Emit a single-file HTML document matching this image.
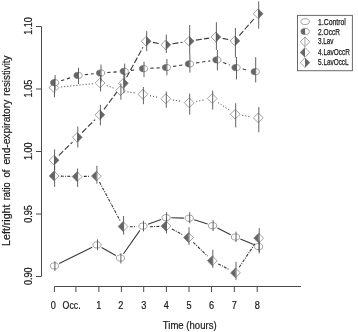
<!DOCTYPE html>
<html><head><meta charset="utf-8"><title>Left/right ratio of end-expiratory resistivity</title>
<style>html,body{margin:0;padding:0;background:#fff}svg{display:block}</style></head>
<body><svg width="358" height="332" viewBox="0 0 358 332">
<rect width="358" height="332" fill="#fff"/>
<g stroke="#3a3a3a" stroke-width="1.1" fill="none"><line x1="59.2" y1="263.6" x2="92.2" y2="247.2"/><line x1="101.6" y1="247.5" x2="115.8" y2="255.4"/><line x1="123.5" y1="253.7" x2="139.9" y2="230.4"/><line x1="148.0" y1="224.3" x2="161.1" y2="219.5"/><line x1="171.4" y1="217.8" x2="183.9" y2="218.1"/><line x1="194.2" y1="219.8" x2="207.6" y2="224.1"/><line x1="217.4" y1="228.0" x2="230.7" y2="234.7"/><line x1="240.4" y1="239.0" x2="253.7" y2="244.6"/></g>
<g stroke="#3a3a3a" stroke-width="1.1" fill="none" stroke-dasharray="3.3 2.8"><line x1="61.1" y1="80.7" x2="71.5" y2="77.4"/><line x1="84.8" y1="74.7" x2="93.7" y2="73.7"/><line x1="107.3" y1="72.5" x2="117.4" y2="71.8"/><line x1="130.9" y1="70.4" x2="136.8" y2="69.6"/><line x1="150.3" y1="68.3" x2="159.6" y2="67.9"/><line x1="173.1" y1="66.4" x2="182.7" y2="65.0"/><line x1="196.1" y1="62.9" x2="210.2" y2="60.9"/><line x1="223.2" y1="62.4" x2="229.7" y2="65.1"/><line x1="242.7" y1="69.0" x2="248.5" y2="70.3"/></g>
<g stroke="#3a3a3a" stroke-width="1.0" fill="none" stroke-dasharray="1 2.07"><line x1="61.2" y1="87.0" x2="92.9" y2="83.7"/><line x1="106.8" y1="85.6" x2="113.7" y2="88.1"/><line x1="127.5" y1="91.8" x2="135.8" y2="93.2"/><line x1="150.0" y1="95.7" x2="158.7" y2="97.4"/><line x1="172.9" y1="100.0" x2="182.1" y2="101.5"/><line x1="196.3" y1="101.4" x2="205.1" y2="99.8"/><line x1="218.1" y1="102.6" x2="229.3" y2="110.1"/><line x1="242.3" y1="115.3" x2="251.2" y2="116.8"/></g>
<g stroke="#3a3a3a" stroke-width="1.1" fill="none" stroke-dasharray="3 1.2 1 1.2"><line x1="60.8" y1="176.1" x2="70.4" y2="176.4"/><line x1="83.8" y1="176.4" x2="89.7" y2="176.3"/><line x1="99.5" y1="182.0" x2="120.0" y2="220.6"/><line x1="129.8" y1="226.7" x2="136.5" y2="226.8"/><line x1="149.9" y1="226.7" x2="159.3" y2="226.4"/><line x1="172.0" y1="229.1" x2="182.5" y2="234.6"/><line x1="193.3" y1="242.3" x2="207.5" y2="256.1"/><line x1="218.2" y1="263.9" x2="229.6" y2="269.8"/><line x1="239.2" y1="267.3" x2="255.0" y2="243.7"/></g>
<g stroke="#3a3a3a" stroke-width="1.1" fill="none" stroke-dasharray="6 2.2"><line x1="58.9" y1="155.4" x2="72.5" y2="142.1"/><line x1="82.1" y1="132.5" x2="95.1" y2="119.6"/><line x1="104.0" y1="109.3" x2="119.3" y2="88.8"/><line x1="126.6" y1="77.3" x2="143.0" y2="47.2"/><line x1="152.9" y1="42.4" x2="159.1" y2="43.6"/><line x1="172.5" y1="43.8" x2="182.5" y2="42.2"/><line x1="195.9" y1="40.1" x2="209.2" y2="38.1"/><line x1="222.6" y1="38.4" x2="228.2" y2="39.5"/><line x1="239.3" y1="35.7" x2="253.8" y2="19.0"/></g>
<path d="M49.1 87.7 L54.0 82.8 L58.9 87.7 L54.0 92.6 Z" fill="#fff" stroke="#7a7a7a" stroke-width="0.7"/><path d="M95.2 83.0 L100.1 78.1 L105.0 83.0 L100.1 87.9 Z" fill="#fff" stroke="#7a7a7a" stroke-width="0.7"/><path d="M115.5 90.7 L120.4 85.8 L125.3 90.7 L120.4 95.6 Z" fill="#fff" stroke="#7a7a7a" stroke-width="0.7"/><path d="M138.0 94.3 L142.9 89.4 L147.8 94.3 L142.9 99.2 Z" fill="#fff" stroke="#7a7a7a" stroke-width="0.7"/><path d="M160.9 98.8 L165.8 93.9 L170.7 98.8 L165.8 103.7 Z" fill="#fff" stroke="#7a7a7a" stroke-width="0.7"/><path d="M184.3 102.7 L189.2 97.8 L194.1 102.7 L189.2 107.6 Z" fill="#fff" stroke="#7a7a7a" stroke-width="0.7"/><path d="M207.3 98.5 L212.2 93.6 L217.1 98.5 L212.2 103.4 Z" fill="#fff" stroke="#7a7a7a" stroke-width="0.7"/><path d="M230.3 114.2 L235.2 109.3 L240.1 114.2 L235.2 119.1 Z" fill="#fff" stroke="#7a7a7a" stroke-width="0.7"/><path d="M253.4 117.9 L258.3 113.0 L263.2 117.9 L258.3 122.8 Z" fill="#fff" stroke="#7a7a7a" stroke-width="0.7"/>
<ellipse cx="54.6" cy="82.7" rx="4.1" ry="3.1" fill="#fff" stroke="#7a7a7a" stroke-width="0.7"/><path d="M54.6 79.6 A4.1 3.1 0 0 0 54.6 85.8 Z" fill="#666666"/><ellipse cx="78.0" cy="75.4" rx="4.1" ry="3.1" fill="#fff" stroke="#7a7a7a" stroke-width="0.7"/><path d="M78.0 72.3 A4.1 3.1 0 0 0 78.0 78.5 Z" fill="#666666"/><ellipse cx="100.5" cy="73.0" rx="4.1" ry="3.1" fill="#fff" stroke="#7a7a7a" stroke-width="0.7"/><path d="M100.5 69.9 A4.1 3.1 0 0 0 100.5 76.1 Z" fill="#666666"/><ellipse cx="124.2" cy="71.3" rx="4.1" ry="3.1" fill="#fff" stroke="#7a7a7a" stroke-width="0.7"/><path d="M124.2 68.2 A4.1 3.1 0 0 0 124.2 74.4 Z" fill="#666666"/><ellipse cx="143.5" cy="68.7" rx="4.1" ry="3.1" fill="#fff" stroke="#7a7a7a" stroke-width="0.7"/><path d="M143.5 65.6 A4.1 3.1 0 0 0 143.5 71.8 Z" fill="#666666"/><ellipse cx="166.4" cy="67.5" rx="4.1" ry="3.1" fill="#fff" stroke="#7a7a7a" stroke-width="0.7"/><path d="M166.4 64.4 A4.1 3.1 0 0 0 166.4 70.6 Z" fill="#666666"/><ellipse cx="189.4" cy="63.9" rx="4.1" ry="3.1" fill="#fff" stroke="#7a7a7a" stroke-width="0.7"/><path d="M189.4 60.8 A4.1 3.1 0 0 0 189.4 67.0 Z" fill="#666666"/><ellipse cx="216.9" cy="59.9" rx="4.1" ry="3.1" fill="#fff" stroke="#7a7a7a" stroke-width="0.7"/><path d="M216.9 56.8 A4.1 3.1 0 0 0 216.9 63.0 Z" fill="#666666"/><ellipse cx="236.0" cy="67.6" rx="4.1" ry="3.1" fill="#fff" stroke="#7a7a7a" stroke-width="0.7"/><path d="M236.0 64.5 A4.1 3.1 0 0 0 236.0 70.7 Z" fill="#666666"/><ellipse cx="255.2" cy="71.7" rx="4.1" ry="3.1" fill="#fff" stroke="#7a7a7a" stroke-width="0.7"/><path d="M255.2 68.6 A4.1 3.1 0 0 0 255.2 74.8 Z" fill="#666666"/>
<path d="M49.2 160.2 L54.1 155.3 L59.0 160.2 L54.1 165.1 Z" fill="#fff" stroke="#7a7a7a" stroke-width="0.7"/><path d="M59.0 160.2 L54.1 155.3 L54.1 165.1 Z" fill="#666666"/><path d="M72.4 137.3 L77.3 132.4 L82.2 137.3 L77.3 142.2 Z" fill="#fff" stroke="#7a7a7a" stroke-width="0.7"/><path d="M82.2 137.3 L77.3 132.4 L77.3 142.2 Z" fill="#666666"/><path d="M95.0 114.8 L99.9 109.9 L104.8 114.8 L99.9 119.7 Z" fill="#fff" stroke="#7a7a7a" stroke-width="0.7"/><path d="M104.8 114.8 L99.9 109.9 L99.9 119.7 Z" fill="#666666"/><path d="M118.5 83.3 L123.4 78.4 L128.3 83.3 L123.4 88.2 Z" fill="#fff" stroke="#7a7a7a" stroke-width="0.7"/><path d="M128.3 83.3 L123.4 78.4 L123.4 88.2 Z" fill="#666666"/><path d="M141.3 41.2 L146.2 36.3 L151.1 41.2 L146.2 46.1 Z" fill="#fff" stroke="#7a7a7a" stroke-width="0.7"/><path d="M151.1 41.2 L146.2 36.3 L146.2 46.1 Z" fill="#666666"/><path d="M160.9 44.8 L165.8 39.9 L170.7 44.8 L165.8 49.7 Z" fill="#fff" stroke="#7a7a7a" stroke-width="0.7"/><path d="M170.7 44.8 L165.8 39.9 L165.8 49.7 Z" fill="#666666"/><path d="M184.3 41.2 L189.2 36.3 L194.1 41.2 L189.2 46.1 Z" fill="#fff" stroke="#7a7a7a" stroke-width="0.7"/><path d="M194.1 41.2 L189.2 36.3 L189.2 46.1 Z" fill="#666666"/><path d="M211.0 37.0 L215.9 32.1 L220.8 37.0 L215.9 41.9 Z" fill="#fff" stroke="#7a7a7a" stroke-width="0.7"/><path d="M220.8 37.0 L215.9 32.1 L215.9 41.9 Z" fill="#666666"/><path d="M230.0 40.9 L234.9 36.0 L239.8 40.9 L234.9 45.8 Z" fill="#fff" stroke="#7a7a7a" stroke-width="0.7"/><path d="M239.8 40.9 L234.9 36.0 L234.9 45.8 Z" fill="#666666"/><path d="M253.3 13.8 L258.2 8.9 L263.1 13.8 L258.2 18.7 Z" fill="#fff" stroke="#7a7a7a" stroke-width="0.7"/><path d="M263.1 13.8 L258.2 8.9 L258.2 18.7 Z" fill="#666666"/>
<path d="M49.2 175.9 L54.1 171.0 L59.0 175.9 L54.1 180.8 Z" fill="#fff" stroke="#7a7a7a" stroke-width="0.7"/><path d="M49.2 175.9 L54.1 171.0 L54.1 180.8 Z" fill="#666666"/><path d="M72.2 176.6 L77.1 171.7 L82.0 176.6 L77.1 181.5 Z" fill="#fff" stroke="#7a7a7a" stroke-width="0.7"/><path d="M72.2 176.6 L77.1 171.7 L77.1 181.5 Z" fill="#666666"/><path d="M91.5 176.1 L96.4 171.2 L101.3 176.1 L96.4 181.0 Z" fill="#fff" stroke="#7a7a7a" stroke-width="0.7"/><path d="M91.5 176.1 L96.4 171.2 L96.4 181.0 Z" fill="#666666"/><path d="M118.2 226.5 L123.1 221.6 L128.0 226.5 L123.1 231.4 Z" fill="#fff" stroke="#7a7a7a" stroke-width="0.7"/><path d="M118.2 226.5 L123.1 221.6 L123.1 231.4 Z" fill="#666666"/><path d="M161.1 226.1 L166.0 221.2 L170.9 226.1 L166.0 231.0 Z" fill="#fff" stroke="#7a7a7a" stroke-width="0.7"/><path d="M161.1 226.1 L166.0 221.2 L166.0 231.0 Z" fill="#666666"/><path d="M183.6 237.6 L188.5 232.7 L193.4 237.6 L188.5 242.5 Z" fill="#fff" stroke="#7a7a7a" stroke-width="0.7"/><path d="M183.6 237.6 L188.5 232.7 L188.5 242.5 Z" fill="#666666"/><path d="M207.4 260.8 L212.3 255.9 L217.2 260.8 L212.3 265.7 Z" fill="#fff" stroke="#7a7a7a" stroke-width="0.7"/><path d="M207.4 260.8 L212.3 255.9 L212.3 265.7 Z" fill="#666666"/><path d="M230.6 272.9 L235.5 268.0 L240.4 272.9 L235.5 277.8 Z" fill="#fff" stroke="#7a7a7a" stroke-width="0.7"/><path d="M230.6 272.9 L235.5 268.0 L235.5 277.8 Z" fill="#666666"/><path d="M253.8 238.1 L258.7 233.2 L263.6 238.1 L258.7 243.0 Z" fill="#fff" stroke="#7a7a7a" stroke-width="0.7"/><path d="M253.8 238.1 L258.7 233.2 L258.7 243.0 Z" fill="#666666"/>
<ellipse cx="54.4" cy="265.9" rx="4.1" ry="3.1" fill="#fff" stroke="#7a7a7a" stroke-width="0.7"/><ellipse cx="97.0" cy="244.9" rx="4.1" ry="3.1" fill="#fff" stroke="#7a7a7a" stroke-width="0.7"/><ellipse cx="120.4" cy="258.0" rx="4.1" ry="3.1" fill="#fff" stroke="#7a7a7a" stroke-width="0.7"/><ellipse cx="143.0" cy="226.1" rx="4.1" ry="3.1" fill="#fff" stroke="#7a7a7a" stroke-width="0.7"/><ellipse cx="166.1" cy="217.7" rx="4.1" ry="3.1" fill="#fff" stroke="#7a7a7a" stroke-width="0.7"/><ellipse cx="189.2" cy="218.2" rx="4.1" ry="3.1" fill="#fff" stroke="#7a7a7a" stroke-width="0.7"/><ellipse cx="212.6" cy="225.7" rx="4.1" ry="3.1" fill="#fff" stroke="#7a7a7a" stroke-width="0.7"/><ellipse cx="235.5" cy="237.0" rx="4.1" ry="3.1" fill="#fff" stroke="#7a7a7a" stroke-width="0.7"/><ellipse cx="258.6" cy="246.6" rx="4.1" ry="3.1" fill="#fff" stroke="#7a7a7a" stroke-width="0.7"/>
<g stroke="#505050" stroke-width="0.9"><line x1="54.9" y1="261.3" x2="54.9" y2="271.1"/><line x1="97.5" y1="239.4" x2="97.5" y2="250.2"/><line x1="120.9" y1="253.1" x2="120.9" y2="263.5"/><line x1="143.5" y1="220.8" x2="143.5" y2="231.4"/><line x1="166.6" y1="212.2" x2="166.6" y2="223.0"/><line x1="189.7" y1="212.2" x2="189.7" y2="223.3"/><line x1="213.1" y1="220.1" x2="213.1" y2="231.0"/><line x1="236.0" y1="231.7" x2="236.0" y2="242.0"/><line x1="259.1" y1="241.0" x2="259.1" y2="252.0"/></g>
<g stroke="#505050" stroke-width="0.9"><line x1="55.1" y1="75.0" x2="55.1" y2="90.0"/><line x1="78.5" y1="67.8" x2="78.5" y2="84.1"/><line x1="101.0" y1="64.5" x2="101.0" y2="82.0"/><line x1="124.7" y1="63.6" x2="124.7" y2="80.0"/><line x1="144.0" y1="61.6" x2="144.0" y2="77.1"/><line x1="166.9" y1="59.0" x2="166.9" y2="75.3"/><line x1="189.9" y1="55.0" x2="189.9" y2="72.6"/><line x1="217.4" y1="50.0" x2="217.4" y2="70.3"/><line x1="236.5" y1="57.0" x2="236.5" y2="79.4"/><line x1="255.7" y1="57.2" x2="255.7" y2="82.5"/></g>
<g stroke="#505050" stroke-width="0.9"><line x1="54.5" y1="79.0" x2="54.5" y2="97.3"/><line x1="100.6" y1="75.0" x2="100.6" y2="91.6"/><line x1="120.9" y1="83.4" x2="120.9" y2="99.7"/><line x1="143.4" y1="87.0" x2="143.4" y2="104.2"/><line x1="166.3" y1="91.6" x2="166.3" y2="107.8"/><line x1="189.7" y1="93.6" x2="189.7" y2="114.7"/><line x1="212.7" y1="90.7" x2="212.7" y2="109.6"/><line x1="235.7" y1="103.3" x2="235.7" y2="127.4"/><line x1="258.8" y1="107.1" x2="258.8" y2="132.3"/></g>
<g stroke="#505050" stroke-width="0.9"><line x1="54.6" y1="166.0" x2="54.6" y2="186.9"/><line x1="77.6" y1="168.6" x2="77.6" y2="186.9"/><line x1="96.9" y1="165.8" x2="96.9" y2="183.7"/><line x1="123.6" y1="216.0" x2="123.6" y2="234.6"/><line x1="166.5" y1="218.0" x2="166.5" y2="233.4"/><line x1="189.0" y1="227.3" x2="189.0" y2="244.9"/><line x1="212.8" y1="249.8" x2="212.8" y2="267.8"/><line x1="236.0" y1="261.8" x2="236.0" y2="279.9"/><line x1="259.2" y1="228.1" x2="259.2" y2="253.4"/></g>
<g stroke="#505050" stroke-width="0.9"><line x1="54.6" y1="149.4" x2="54.6" y2="170.0"/><line x1="77.8" y1="126.5" x2="77.8" y2="147.5"/><line x1="100.4" y1="104.8" x2="100.4" y2="125.3"/><line x1="123.9" y1="73.0" x2="123.9" y2="93.4"/><line x1="146.7" y1="31.1" x2="146.7" y2="51.1"/><line x1="166.3" y1="34.5" x2="166.3" y2="53.0"/><line x1="189.7" y1="25.0" x2="189.7" y2="55.0"/><line x1="216.4" y1="22.2" x2="216.4" y2="50.0"/><line x1="235.4" y1="28.0" x2="235.4" y2="57.5"/><line x1="258.7" y1="1.4" x2="258.7" y2="28.6"/></g>
<g stroke="#4a4a4a" stroke-width="1" fill="none"><path d="M36 26.5 H41.5 V276.5 H36" /><path d="M36 89 H41.5"/><path d="M36 151.5 H41.5"/><path d="M36 214 H41.5"/><path d="M54.4 292 V286.5 H301"/><path d="M75.9 286.5 V292"/><path d="M98.9 286.5 V292"/><path d="M121.4 286.5 V292"/><path d="M143.7 286.5 V292"/><path d="M166.4 286.5 V292"/><path d="M189 286.5 V292"/><path d="M211.5 286.5 V292"/><path d="M234.3 286.5 V292"/><path d="M257.2 286.5 V292"/></g>
<g font-family="'Liberation Sans', sans-serif" font-size="10" fill="#1a1a1a" stroke="#1a1a1a" stroke-width="0.2"><text transform="translate(31.6,26) rotate(-90)" text-anchor="middle" textLength="17.6" lengthAdjust="spacingAndGlyphs">1.10</text><text transform="translate(31.6,88.6) rotate(-90)" text-anchor="middle" textLength="17.6" lengthAdjust="spacingAndGlyphs">1.05</text><text transform="translate(31.6,151.2) rotate(-90)" text-anchor="middle" textLength="17.6" lengthAdjust="spacingAndGlyphs">1.00</text><text transform="translate(31.6,213.9) rotate(-90)" text-anchor="middle" textLength="17.6" lengthAdjust="spacingAndGlyphs">0.95</text><text transform="translate(31.6,276.3) rotate(-90)" text-anchor="middle" textLength="17.6" lengthAdjust="spacingAndGlyphs">0.90</text><text x="53.2" y="308.6" text-anchor="middle" textLength="5.1" lengthAdjust="spacingAndGlyphs">0</text><text x="71.6" y="308.6" text-anchor="middle" textLength="18" lengthAdjust="spacingAndGlyphs">Occ.</text><text x="98.9" y="308.6" text-anchor="middle" textLength="5.1" lengthAdjust="spacingAndGlyphs">1</text><text x="120.8" y="308.6" text-anchor="middle" textLength="5.1" lengthAdjust="spacingAndGlyphs">2</text><text x="143.7" y="308.6" text-anchor="middle" textLength="5.1" lengthAdjust="spacingAndGlyphs">3</text><text x="166.4" y="308.6" text-anchor="middle" textLength="5.1" lengthAdjust="spacingAndGlyphs">4</text><text x="189" y="308.6" text-anchor="middle" textLength="5.1" lengthAdjust="spacingAndGlyphs">5</text><text x="211.5" y="308.6" text-anchor="middle" textLength="5.1" lengthAdjust="spacingAndGlyphs">6</text><text x="234.3" y="308.6" text-anchor="middle" textLength="5.1" lengthAdjust="spacingAndGlyphs">7</text><text x="257.2" y="308.6" text-anchor="middle" textLength="5.1" lengthAdjust="spacingAndGlyphs">8</text><text x="189.7" y="328.7" font-size="10" text-anchor="middle" textLength="53.8" lengthAdjust="spacingAndGlyphs">Time (hours)</text><g transform="translate(10.3,245.9) rotate(-90)"><text x="0" y="0" textLength="41.4" lengthAdjust="spacingAndGlyphs">Left/right</text><text x="45.6" y="0" textLength="18" lengthAdjust="spacingAndGlyphs">ratio</text><text x="68.3" y="0" textLength="8.2" lengthAdjust="spacingAndGlyphs">of</text><text x="81.3" y="0" textLength="64.8" lengthAdjust="spacingAndGlyphs">end-expiratory</text><text x="150.1" y="0" textLength="40.3" lengthAdjust="spacingAndGlyphs">resistivity</text></g></g>
<rect x="297.5" y="15.4" width="54.9" height="55.3" fill="#fff" stroke="#6a6a6a" stroke-width="1"/><ellipse cx="305.1" cy="21.6" rx="4.2" ry="2.9" fill="#fff" stroke="#7a7a7a" stroke-width="0.7"/><ellipse cx="305.1" cy="31.5" rx="4.2" ry="3.1" fill="#fff" stroke="#7a7a7a" stroke-width="0.7"/><path d="M305.1 28.4 A4.2 3.1 0 0 0 305.1 34.6 Z" fill="#666666"/><path d="M300.2 41.8 L305.0 37.0 L309.8 41.8 L305.0 46.6 Z" fill="#fff" stroke="#7a7a7a" stroke-width="0.7"/><line x1="305" y1="37.2" x2="305" y2="46.4" stroke="#7a7a7a" stroke-width="0.7"/><path d="M300.2 52.4 L305.0 47.6 L309.8 52.4 L305.0 57.2 Z" fill="#fff" stroke="#7a7a7a" stroke-width="0.7"/><path d="M300.2 52.4 L305.0 47.6 L305.0 57.2 Z" fill="#666666"/><path d="M300.2 62.6 L305.0 57.8 L309.8 62.6 L305.0 67.4 Z" fill="#fff" stroke="#7a7a7a" stroke-width="0.7"/><path d="M309.8 62.6 L305.0 57.8 L305.0 67.4 Z" fill="#666666"/><g font-family="'Liberation Sans', sans-serif" font-size="8.8" fill="#1a1a1a" stroke="#1a1a1a" stroke-width="0.25"><text x="318.1" y="25.0" textLength="27.6" lengthAdjust="spacingAndGlyphs">1.Control</text><text x="318.1" y="34.5" textLength="21.8" lengthAdjust="spacingAndGlyphs">2.OccR</text><text x="318.1" y="44.1" textLength="15.4" lengthAdjust="spacingAndGlyphs">3.Lav</text><text x="318.1" y="54.7" textLength="31.8" lengthAdjust="spacingAndGlyphs">4.LavOccR</text><text x="318.1" y="65.3" textLength="30.5" lengthAdjust="spacingAndGlyphs">5.LavOccL</text></g>
</svg></body></html>
